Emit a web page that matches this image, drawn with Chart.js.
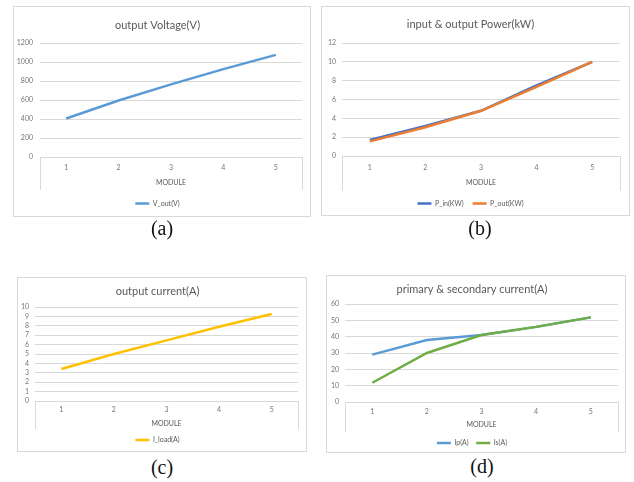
<!DOCTYPE html>
<html>
<head>
<meta charset="utf-8">
<script src="https://cdn.jsdelivr.net/npm/chart.js@4.4.1/dist/chart.umd.min.js"></script>
<style>
  body { margin: 0; background: #fff; width: 634px; height: 482px; position: relative; overflow: hidden; }
  .panel { position: absolute; border: 1px solid #d9d9d9; box-sizing: border-box; background: #fff; }
  .panel canvas { position: absolute; left: -1px; top: -1px; }
  .cap { position: absolute; width: 60px; margin-left: -30px; text-align: center; font-family: "Liberation Serif", serif; font-size: 20px; line-height: 24px; color: #111; }
</style>
</head>
<body>
<div class="panel" style="left:13px;top:6px;width:298px;height:211px"><canvas id="chartA" width="298" height="211"></canvas></div>
<div class="panel" style="left:321px;top:6px;width:309px;height:210px"><canvas id="chartB" width="309" height="210"></canvas></div>
<div class="panel" style="left:17px;top:277px;width:290px;height:175px"><canvas id="chartC" width="290" height="175"></canvas></div>
<div class="panel" style="left:326px;top:275px;width:300px;height:178px"><canvas id="chartD" width="300" height="178"></canvas></div>
<div class="cap" style="left:162px;top:216px">(a)</div>
<div class="cap" style="left:480px;top:216px">(b)</div>
<div class="cap" style="left:162px;top:455px">(c)</div>
<div class="cap" style="left:482px;top:454px">(d)</div>
<script>
const modules = ['1', '2', '3', '4', '5'];
const vOut = [405, 595, 765, 925, 1075];
const pIn = [1.7, 3.2, 4.8, 7.5, 10];
const pOut = [1.55, 3.05, 4.8, 7.35, 10];
const iLoad = [3.4, 5.0, 6.45, 7.9, 9.25];
const ip = [29, 38, 41, 46, 51.8];
const is = [11.8, 30, 41, 46, 51.8];

const gridColor = '#d9d9d9';
const textColor = '#595959';
const tickColor = '#767676';
const fontFamily = 'Lato, "Liberation Sans", sans-serif';

// vertical lines of the category box under the plot (excel style)
const boxLines = {
    id: 'boxLines',
    afterDraw(chart) {
        const { ctx, chartArea, scales } = chart;
        ctx.save();
        ctx.strokeStyle = gridColor;
        ctx.lineWidth = 1;
        ctx.beginPath();
        [chartArea.left, chartArea.right].forEach((x) => {
            const px = Math.round(x) + 0.5;
            ctx.moveTo(px, chartArea.bottom);
            ctx.lineTo(px, scales.x.bottom);
        });
        ctx.stroke();
        ctx.restore();
    },
};

function line(label, data, color, order) {
    return {
        label: label,
        data: data,
        borderColor: color,
        backgroundColor: color,
        borderWidth: 2.5,
        pointRadius: 0,
        tension: 0,
        fill: false,
        order: order || 0,
    };
}

function makeChart(id, title, datasets, yMax, yStep, box) {
    const ctx = document.getElementById(id).getContext('2d');
    return new Chart(ctx, {
        type: 'line',
        data: { labels: modules, datasets: datasets },
        options: {
            responsive: false,
            animation: false,
            layout: { padding: { left: 0, right: box.w - box.right, top: 0, bottom: 0 } },
            plugins: {
                title: {
                    display: true,
                    text: title,
                    color: textColor,
                    font: { family: fontFamily, size: 11, weight: 'normal' },
                    padding: { top: box.titleY - 6.6, bottom: box.top - box.titleY - 6.6 },
                },
                legend: {
                    position: 'bottom',
                    maxHeight: box.h - box.bottom - box.depth,
                    labels: {
                        usePointStyle: true,
                        pointStyle: 'line',
                        pointStyleWidth: 14,
                        color: textColor,
                        padding: box.legendPad,
                        font: { family: fontFamily, size: 7 },
                        sort: (a, b) => a.datasetIndex - b.datasetIndex,
                    },
                },
                tooltip: { enabled: false },
            },
            scales: {
                x: {
                    offset: true,
                    grid: { display: false, drawTicks: false },
                    border: { display: false },
                    ticks: { color: tickColor, padding: box.tickPad, font: { family: fontFamily, size: 7 } },
                    title: {
                        display: true,
                        text: 'MODULE',
                        color: textColor,
                        padding: { top: 0, bottom: box.titlePad },
                        font: { family: fontFamily, size: 7 },
                    },
                    afterFit: (scale) => { scale.height = box.depth; },
                },
                y: {
                    min: 0,
                    max: yMax,
                    grid: { color: gridColor, drawTicks: false },
                    border: { display: false },
                    ticks: {
                        stepSize: yStep,
                        autoSkip: false,
                        color: tickColor,
                        padding: box.yGap,
                        font: { family: fontFamily, size: 7 },
                        callback: (value) => String(value),
                    },
                    afterFit: (scale) => { scale.width = box.left; },
                },
            },
        },
        plugins: [boxLines],
    });
}

makeChart('chartA', 'output Voltage(V)', [line('V_out(V)', vOut, '#5b9bd5')], 1200, 200,
    { w: 298, h: 211, left: 27, right: 289, top: 37, bottom: 151, titleY: 19, depth: 33, tickPad: 7, titlePad: 2.8, legendPad: 10, yGap: 7 });

makeChart('chartB', 'input & output Power(kW)', [
    line('P_in(KW)', pIn, '#4472c4', 2),
    line('P_out(KW)', pOut, '#ed7d31', 1),
], 12, 2,
    { w: 309, h: 210, left: 21, right: 299, top: 37, bottom: 150, titleY: 18, depth: 35, tickPad: 7.8, titlePad: 3.8, legendPad: 9, yGap: 6 });

makeChart('chartC', 'output current(A)', [line('I_load(A)', iLoad, '#ffc000')], 10, 1,
    { w: 290, h: 175, left: 18, right: 281, top: 30, bottom: 124, titleY: 14, depth: 28, tickPad: 4.8, titlePad: 0.8, legendPad: 7.5, yGap: 6 });

makeChart('chartD', 'primary & secondary current(A)', [
    line('Ip(A)', ip, '#5b9bd5', 2),
    line('Is(A)', is, '#70ad47', 1),
], 60, 10,
    { w: 300, h: 178, left: 19, right: 292, top: 29, bottom: 127, titleY: 14, depth: 30, tickPad: 5.8, titlePad: 2.8, legendPad: 7.5, yGap: 6 });
</script>
</body>
</html>
